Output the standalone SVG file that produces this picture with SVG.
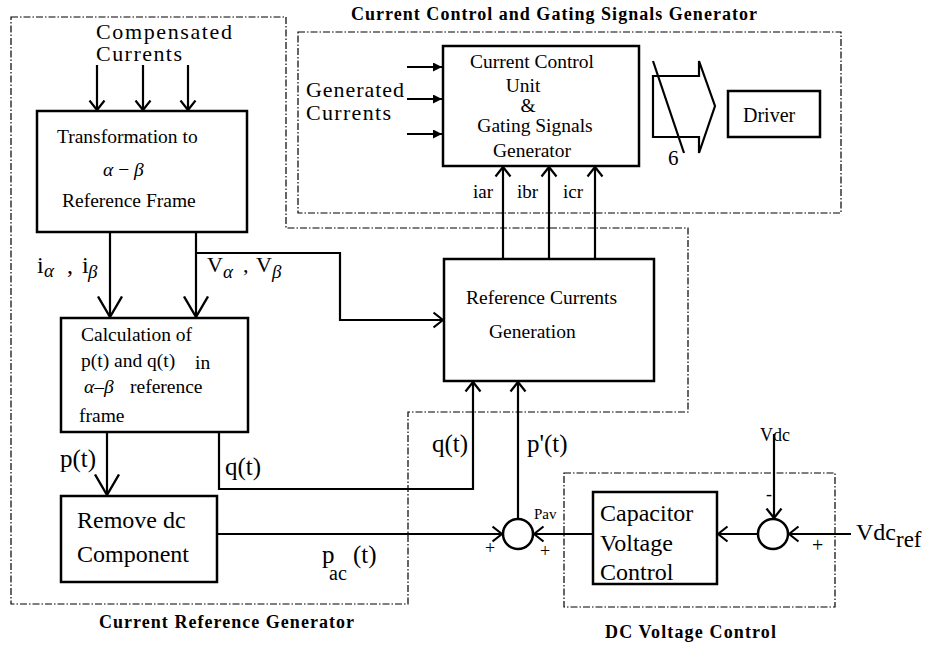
<svg xmlns="http://www.w3.org/2000/svg" width="927" height="650" viewBox="0 0 927 650" font-family="'Liberation Serif', 'Times New Roman', 'DejaVu Serif', serif">
<style>
text{font-family:'Liberation Serif','Times New Roman','DejaVu Serif',serif;fill:#000}
.t{font-weight:bold;font-size:18px}
.f19{font-size:19.5px}
.f24{font-size:24px}
.box{fill:#fff;stroke:#000;stroke-width:2.5}
.dash{fill:none;stroke:#000;stroke-width:1.2;stroke-dasharray:7,2,1.5,2}
.ln{fill:none;stroke:#000;stroke-width:2.2}
.it{font-style:italic}
</style>
<defs>
<marker id="v" viewBox="0 0 12 18" refX="10.5" refY="9" markerWidth="12" markerHeight="18" orient="auto" markerUnits="userSpaceOnUse">
<path d="M1,1.5 L10.5,9 L1,16.5" fill="none" stroke="#000" stroke-width="2.2" stroke-linejoin="round"/>
</marker>
<marker id="vbig" viewBox="0 0 24 28" refX="21.5" refY="14" markerWidth="24" markerHeight="28" orient="auto" markerUnits="userSpaceOnUse">
<path d="M1,2 L21.5,14 L1,26" fill="none" stroke="#000" stroke-width="2.4" stroke-linejoin="round"/>
</marker>
<marker id="tri" viewBox="0 0 10 10" refX="10" refY="5" markerWidth="10" markerHeight="9" orient="auto" markerUnits="userSpaceOnUse">
<path d="M0,0 L10,5 L0,10 Z" fill="#000"/>
</marker>
</defs>
<rect width="927" height="650" fill="#fff"/>

<g id="groups">
<path class="dash" d="M11,17 H286 V228 H688 V412 H408 V604 H11 Z"/>
<rect class="dash" x="298" y="32" width="543" height="181"/>
<rect class="dash" x="564" y="473" width="271" height="134"/>
<text class="t" x="99" y="628" textLength="255">Current Reference Generator</text>
<text class="t" x="351" y="20" textLength="406">Current Control and Gating Signals Generator</text>
<text class="t" x="605" y="638" textLength="171">DC Voltage Control</text>
</g>

<g id="connectors">
<path class="ln" d="M97,65 V110" marker-end="url(#v)"/>
<path class="ln" d="M143,65 V110" marker-end="url(#v)"/>
<path class="ln" d="M188,65 V110" marker-end="url(#v)"/>
<path class="ln" d="M110,232 V317" marker-end="url(#vbig)"/>
<path class="ln" d="M196,232 V317" marker-end="url(#vbig)"/>
<path class="ln" d="M196,253 H340 V320 H443" marker-end="url(#v)"/>
<path class="ln" d="M107,432 V495" marker-end="url(#vbig)"/>
<path class="ln" d="M219,432 V489 H473 V382" marker-end="url(#v)"/>
<path class="ln" d="M217,534 H502" marker-end="url(#v)"/>
<path class="ln" d="M518,519 V382" marker-end="url(#v)"/>
<path class="ln" d="M593,534 H534" marker-end="url(#v)"/>
<path class="ln" d="M758,534 H718" marker-end="url(#v)"/>
<path class="ln" d="M851,534 H789" marker-end="url(#v)"/>
<path class="ln" d="M774,434 V518" marker-end="url(#v)"/>
<path class="ln" d="M503,259 V167" marker-end="url(#v)"/>
<path class="ln" d="M549,259 V167" marker-end="url(#v)"/>
<path class="ln" d="M595,259 V167" marker-end="url(#v)"/>
<path class="ln" d="M407,67 H442" stroke-width="2" marker-end="url(#tri)"/>
<path class="ln" d="M407,99 H442" stroke-width="2" marker-end="url(#tri)"/>
<path class="ln" d="M407,134 H442" stroke-width="2" marker-end="url(#tri)"/>
</g>

<g id="labels">
<text font-size="22" x="96" y="39" textLength="136">Compensated</text>
<text font-size="22" x="96" y="61" textLength="86">Currents</text>
<text font-size="22" x="306" y="97" textLength="98">Generated</text>
<text font-size="22" x="306" y="120" textLength="85">Currents</text>
<text class="f24" x="37" y="273">i<tspan class="it" font-size="19" x="44" dy="4">α</tspan><tspan x="67" dy="-4">,</tspan><tspan x="82">i</tspan><tspan class="it" font-size="19" x="88" dy="5">β</tspan></text>
<text font-size="22" x="207" y="272">V<tspan class="it" font-size="19" dy="6">α</tspan><tspan x="243" dy="-6">,</tspan><tspan x="256">V</tspan><tspan class="it" font-size="19" dy="6">β</tspan></text>
<text font-size="25" x="60" y="467">p(t)</text>
<text font-size="25" x="225" y="475">q(t)</text>
<text font-size="25" x="432" y="452">q(t)</text>
<text font-size="25" x="527" y="452">p'(t)</text>
<text font-size="25" x="322" y="563">p<tspan font-size="20" x="329" y="580">ac</tspan><tspan x="353" y="563">(t)</tspan></text>
<text font-size="15" x="534" y="519">Pav</text>
<text font-size="18" x="485" y="554">+</text>
<text font-size="18" x="540" y="557">+</text>
<text font-size="20" x="812" y="552">+</text>
<text font-size="18" x="766" y="500">-</text>
<text font-size="18" x="760" y="441">Vdc</text>
<text class="f24" x="856" y="540">Vdc<tspan font-size="23" dy="7">ref</tspan></text>
<text font-size="19" x="473" y="198">iar</text>
<text font-size="19" x="517" y="198">ibr</text>
<text font-size="19" x="563" y="198">icr</text>
<text font-size="21" x="668" y="165">6</text>
</g>

<g id="transformation">
<rect class="box" x="37" y="111" width="210" height="121"/>
<text class="f19" x="57" y="143">Transformation to</text>
<text class="f19" x="103" y="176"><tspan class="it">α</tspan> − <tspan class="it">β</tspan></text>
<text class="f19" x="62" y="207">Reference Frame</text>
</g>

<g id="calculation">
<rect class="box" x="61" y="318" width="187" height="114"/>
<text class="f19" x="81" y="341">Calculation of</text>
<text class="f19" x="81" y="367">p(t) and q(t)</text>
<text class="f19" x="195" y="369">in</text>
<text class="f19" x="84" y="393"><tspan class="it">α</tspan>–<tspan class="it">β</tspan></text>
<text class="f19" x="130" y="393">reference</text>
<text class="f19" x="79" y="422">frame</text>
</g>

<g id="remove-dc">
<rect class="box" x="61" y="496" width="156" height="86"/>
<text class="f24" x="77" y="528">Remove dc</text>
<text class="f24" x="77" y="562">Component</text>
</g>

<g id="reference-currents">
<rect class="box" x="444" y="259" width="210" height="122"/>
<text class="f19" x="466" y="304">Reference Currents</text>
<text class="f19" x="489" y="338">Generation</text>
</g>

<g id="current-control">
<rect class="box" x="443" y="46" width="196" height="120"/>
<text class="f19" x="532" y="68" text-anchor="middle">Current Control</text>
<text class="f19" x="523" y="92" text-anchor="middle">Unit</text>
<text class="f19" x="528" y="112" text-anchor="middle">&amp;</text>
<text class="f19" x="535" y="132" text-anchor="middle">Gating Signals</text>
<text class="f19" x="532" y="157" text-anchor="middle">Generator</text>
</g>

<g id="bus">
<path d="M653,76 H699 V61 L715,106 L699,153 V137 H653 Z" fill="none" stroke="#000" stroke-width="2.2" stroke-linejoin="miter"/>
<path d="M653,61 L684,153" stroke="#000" stroke-width="2.2"/>
</g>

<g id="driver">
<rect class="box" x="728" y="91" width="92" height="46"/>
<text font-size="20" x="743" y="122">Driver</text>
</g>

<g id="sum1">
<circle cx="518" cy="534" r="15" fill="#fff" stroke="#000" stroke-width="2.5"/>
</g>

<g id="capacitor-control">
<rect class="box" x="593" y="492" width="124" height="92"/>
<text class="f24" x="600" y="521">Capacitor</text>
<text class="f24" x="600" y="551">Voltage</text>
<text class="f24" x="600" y="580">Control</text>
</g>

<g id="sum2">
<circle cx="773" cy="534" r="15" fill="#fff" stroke="#000" stroke-width="2.5"/>
</g>
</svg>
